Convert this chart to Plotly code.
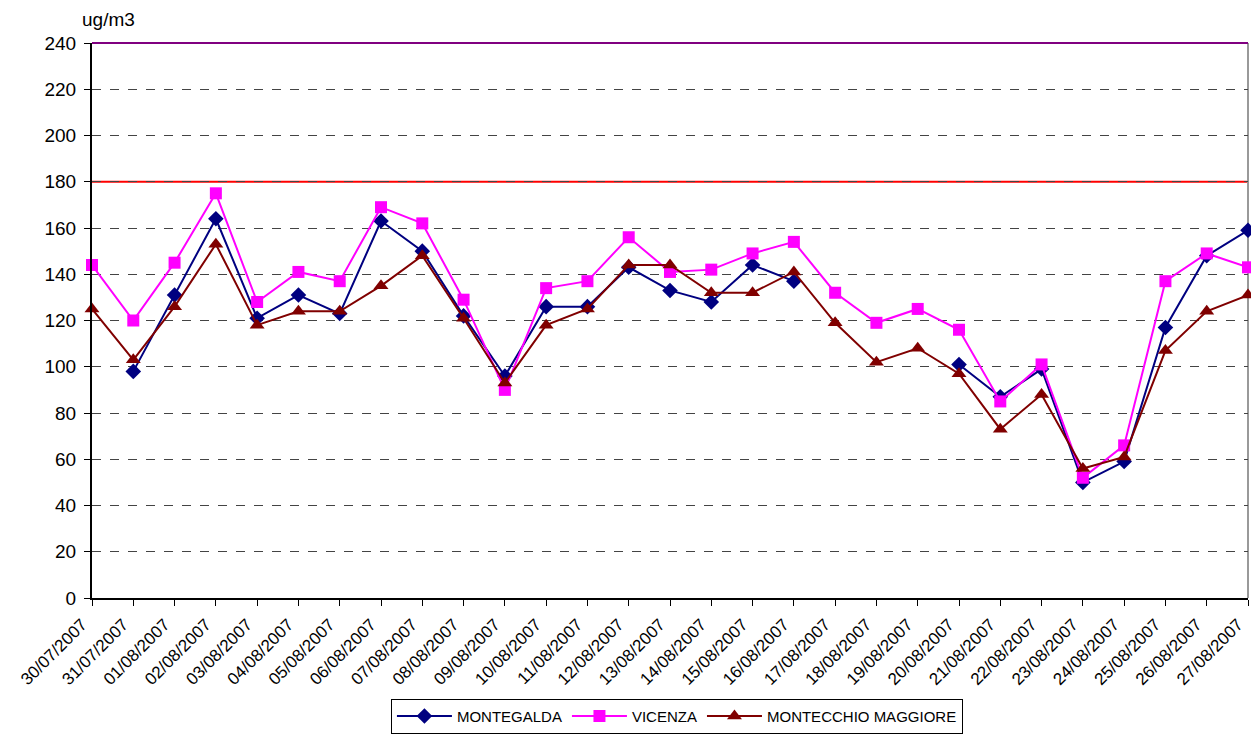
import plotly.graph_objects as go

dates = ["30/07/2007", "31/07/2007", "01/08/2007", "02/08/2007", "03/08/2007", "04/08/2007",
         "05/08/2007", "06/08/2007", "07/08/2007", "08/08/2007", "09/08/2007", "10/08/2007",
         "11/08/2007", "12/08/2007", "13/08/2007", "14/08/2007", "15/08/2007", "16/08/2007",
         "17/08/2007", "18/08/2007", "19/08/2007", "20/08/2007", "21/08/2007", "22/08/2007",
         "23/08/2007", "24/08/2007", "25/08/2007", "26/08/2007", "27/08/2007"]

montegalda = [None, 98, 131, 164, 121, 131, 123, 163, 150, 122, 96, 126, 126, 143, 133, 128,
              144, 137, None, None, None, 101, 87, 99, 50, 59, 117, 148, 159]
vicenza = [144, 120, 145, 175, 128, 141, 137, 169, 162, 129, 90, 134, 137, 156, 141, 142,
           149, 154, 132, 119, 125, 116, 85, 101, 52, 66, 137, 149, 143]
montecchio = [125, 103, 126, 153, 118, 124, 124, 135, 148, 121, 93, 118, 125, 144, 144, 132,
              132, 141, 119, 102, 108, 97, 73, 88, 56, 61, 107, 124, 131]

limit_info = 180
limit_alarm = 240
y_ticks = list(range(0, 241, 20))

FONT = "Liberation Sans, Arial, sans-serif"

fig = go.Figure()
fig.add_trace(go.Scatter(x=dates, y=montegalda, name="MONTEGALDA", mode="lines+markers",
                         line=dict(color="#000080", width=2),
                         marker=dict(symbol="diamond", size=12, color="#000080"),
                         connectgaps=False, cliponaxis=False))
fig.add_trace(go.Scatter(x=dates, y=vicenza, name="VICENZA", mode="lines+markers",
                         line=dict(color="#FF00FF", width=2),
                         marker=dict(symbol="square", size=12, color="#FF00FF"),
                         cliponaxis=False))
fig.add_trace(go.Scatter(x=dates, y=montecchio, name="MONTECCHIO MAGGIORE", mode="lines+markers",
                         line=dict(color="#800000", width=2),
                         marker=dict(symbol="triangle-up", size=13, color="#800000"),
                         cliponaxis=False))

fig.add_shape(type="line", xref="paper", x0=0, x1=1, yref="y", y0=limit_info, y1=limit_info,
              line=dict(color="#FF0000", width=2), layer="between")
# alarm threshold coincides with the top of the y range -> draw it on the plot's top edge
fig.add_shape(type="line", xref="paper", x0=0, x1=1, yref="paper", y0=1, y1=1,
              line=dict(color="#800080", width=2), layer="above")
fig.add_shape(type="line", xref="paper", x0=1, x1=1, yref="paper", y0=0, y1=1,
              line=dict(color="#999999", width=2), layer="between")

fig.add_annotation(text="ug/m3", xref="paper", yref="paper", x=0.014, y=1.043,
                   xanchor="center", yanchor="middle", showarrow=False,
                   font=dict(family=FONT, size=19, color="black"))

fig.update_layout(
    width=1251, height=736,
    margin=dict(l=92, r=3, t=43, b=138),
    paper_bgcolor="white", plot_bgcolor="white",
    font=dict(family=FONT, color="black"),
    showlegend=True,
    legend=dict(orientation="h", x=0.506, xanchor="center",
                yref="container", y=0.003, yanchor="bottom",
                bordercolor="black", borderwidth=1, font=dict(family=FONT, size=15),
                itemwidth=55, tracegroupgap=0),
)
fig.update_xaxes(type="category", range=[0, len(dates) - 1], showgrid=False,
                 showline=True, linecolor="black", linewidth=2,
                 ticks="outside", ticklen=6, tickcolor="black", tickwidth=1,
                 tickangle=-45, tickfont=dict(family=FONT, size=17, color="black"),
                 ticklabelshift=-10, ticklabelstandoff=2,
                 zeroline=False, automargin=False)
fig.update_yaxes(range=[0, limit_alarm], tickvals=y_ticks, showgrid=True, gridcolor="#444444",
                 griddash="dash", gridwidth=1,
                 showline=True, linecolor="black", linewidth=2,
                 ticks="outside", ticklen=6, tickcolor="black",
                 tickfont=dict(family=FONT, size=19, color="black"),
                 ticklabelstandoff=4, zeroline=False, automargin=False)

fig.write_html("out.html", config={"displayModeBar": False},
               post_script="document.body.style.margin='0';document.body.style.overflow='hidden';")
